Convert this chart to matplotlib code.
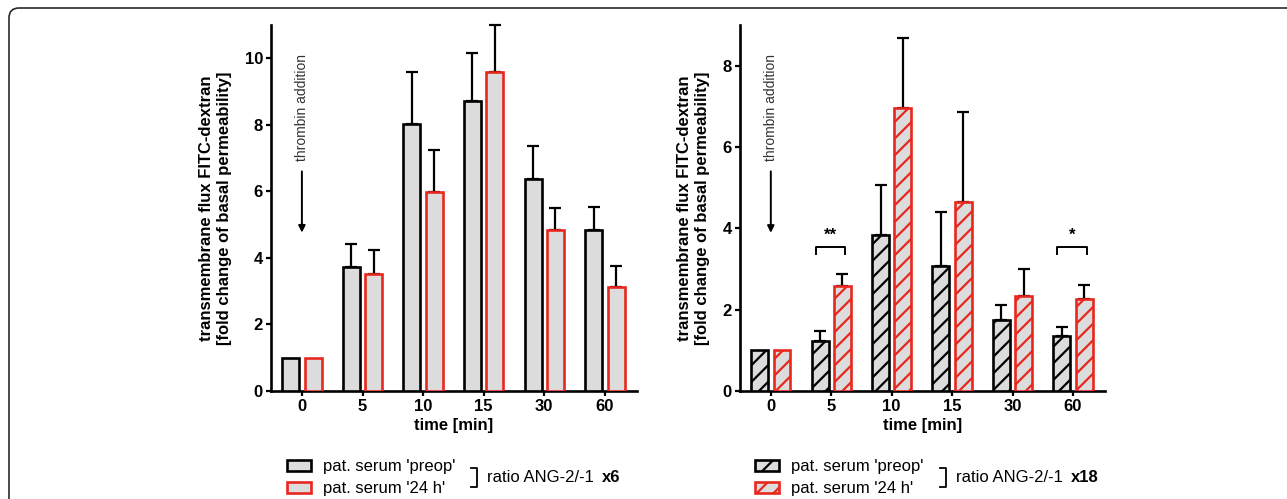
import numpy as np
import matplotlib.pyplot as plt
from matplotlib.patches import FancyBboxPatch
from matplotlib.lines import Line2D

plt.rcParams['font.family'] = ['Liberation Sans', 'DejaVu Sans']
plt.rcParams['hatch.linewidth'] = 1.6

# ── Data ──────────────────────────────────────────────────────────────────────
times = ['0', '5', '10', '15', '30', '60']

# left panel: ratio ANG-2/-1 x6 (mean, SEM)
x6_preop = [1.0, 3.74, 8.03, 8.73, 6.38, 4.83]
x6_preop_err = [0.0, 0.68, 1.57, 1.44, 0.99, 0.70]
x6_24h = [1.0, 3.51, 5.98, 9.60, 4.83, 3.13]
x6_24h_err = [0.0, 0.72, 1.27, 1.39, 0.67, 0.64]

# right panel: ratio ANG-2/-1 x18
x18_preop = [1.0, 1.22, 3.83, 3.08, 1.74, 1.36]
x18_preop_err = [0.0, 0.26, 1.24, 1.32, 0.37, 0.22]
x18_24h = [1.0, 2.58, 6.97, 4.65, 2.33, 2.27]
x18_24h_err = [0.0, 0.29, 1.71, 2.20, 0.67, 0.33]

# significance marks on the right panel: (time index, label, bracket height)
x18_signif = [(1, '**', 3.53), (5, '*', 3.53)]

W, H = 1287, 499
FILL = '#dcdcdc'
RED = '#e8281e'


def px(x, y):
    """pixel (from top-left) -> figure fraction"""
    return x / W, 1 - y / H


def draw_panel(ax, preop, preop_err, h24, h24_err, hatch, ymax, yticks):
    idx = np.arange(len(times))
    w, off = 0.28, 0.185
    b1 = ax.bar(idx - off, preop, w, color=FILL, edgecolor='black',
                linewidth=1.9, hatch=hatch, zorder=3)
    b2 = ax.bar(idx + off, h24, w, color=FILL, edgecolor=RED,
                linewidth=1.9, hatch=hatch, zorder=3)
    for xs, vals, errs in [(idx - off, preop, preop_err), (idx + off, h24, h24_err)]:
        vals = np.array(vals)
        errs = np.array(errs)
        m = errs > 0
        eb = ax.errorbar(xs[m], vals[m], yerr=[np.zeros(m.sum()), errs[m]],
                         fmt='none', ecolor='black', elinewidth=1.6,
                         capsize=4.6, capthick=1.6, zorder=2)
        for art in eb.lines[1] + eb.lines[2]:
            art.set_clip_on(False)
    ax.set_xlim(-0.51, 5.53)
    ax.set_ylim(0, ymax)
    ax.set_xticks(idx)
    ax.set_xticklabels(times)
    ax.set_yticks(yticks)
    for s in ['top', 'right']:
        ax.spines[s].set_visible(False)
    for s in ['left', 'bottom']:
        ax.spines[s].set_linewidth(1.9)
    ax.tick_params(direction='out', length=3.8, width=1.6, pad=2,
                   labelsize=12)
    for lab in ax.get_xticklabels() + ax.get_yticklabels():
        lab.set_fontweight('bold')
    ax.set_xlabel('time [min]', fontsize=12, fontweight='bold', labelpad=3)
    ax.set_ylabel('transmembrane flux FITC-dextran\n'
                  '[fold change of basal permeability]',
                  fontsize=12, fontweight='bold', labelpad=9, linespacing=1.25)
    return b1, b2


def thrombin(ax, text_top, arrow_top, arrow_bottom):
    ax.text(0, text_top, 'thrombin addition', rotation=90, ha='center',
            va='top', fontsize=10, color='#333333')
    ax.annotate('', xy=(0, arrow_bottom), xytext=(0, arrow_top),
                arrowprops=dict(arrowstyle='-|>', color='black', lw=1.4,
                                mutation_scale=10, shrinkA=0, shrinkB=0))


def legend(fig, handles, x_patch, x_brack, ratio):
    fig.legend(handles, ["pat. serum 'preop'", "pat. serum '24 h'"],
               loc='center left', bbox_to_anchor=px(x_patch, 478),
               frameon=False, fontsize=12, borderpad=0, borderaxespad=0,
               handlelength=1.44, handleheight=0.66, handletextpad=0.72,
               labelspacing=0.42)
    xs = [x_brack - 6, x_brack, x_brack, x_brack - 6]
    ys = [468, 468, 487, 487]
    fig.add_artist(Line2D([x / W for x in xs], [1 - y / H for y in ys],
                          transform=fig.transFigure, color='black', lw=1.3))
    t = fig.text(*px(x_brack + 10, 478), 'ratio ANG-2/-1', fontsize=12,
                 va='center', ha='left')
    plt.annotate(ratio, xy=(1, 0.5), xycoords=t, xytext=(6, 0),
                 textcoords='offset points', va='center', ha='left',
                 fontsize=12, fontweight='bold', annotation_clip=False)


fig = plt.figure(figsize=(W / 100, H / 100), dpi=100)

# outer frame (left + top edge with rounded corner)
frame = FancyBboxPatch((0.09, -0.5), 14, 0.5 + H / 100 - 0.08,
                       boxstyle='round,pad=0,rounding_size=0.1',
                       transform=fig.dpi_scale_trans, fill=False,
                       edgecolor='#2a2a2a', linewidth=1.2, clip_on=False)
fig.add_artist(frame)

ax1 = fig.add_axes([271 / W, 1 - 391 / H, 366 / W, 366 / H])
h1 = draw_panel(ax1, x6_preop, x6_preop_err, x6_24h, x6_24h_err, None,
                11, [0, 2, 4, 6, 8, 10])
thrombin(ax1, 10.12, 6.6, 4.76)

ax2 = fig.add_axes([740 / W, 1 - 391 / H, 365 / W, 366 / H])
h2 = draw_panel(ax2, x18_preop, x18_preop_err, x18_24h, x18_24h_err, '//',
                9, [0, 2, 4, 6, 8])
thrombin(ax2, 8.28, 5.4, 3.89)

for i, lab, yb in x18_signif:
    x0, x1 = i - 0.26, i + 0.23
    ax2.plot([x0, x0, x1, x1], [yb - 0.17, yb, yb, yb - 0.17], color='black',
             lw=1.4, zorder=4)
    ax2.text(i - 0.015, yb + 0.12, lab, ha='center', va='bottom', fontsize=12,
             fontweight='bold')

legend(fig, h1, 287, 477, 'x6')
legend(fig, h2, 755, 946, 'x18')

fig.savefig('out.png', dpi=100)
